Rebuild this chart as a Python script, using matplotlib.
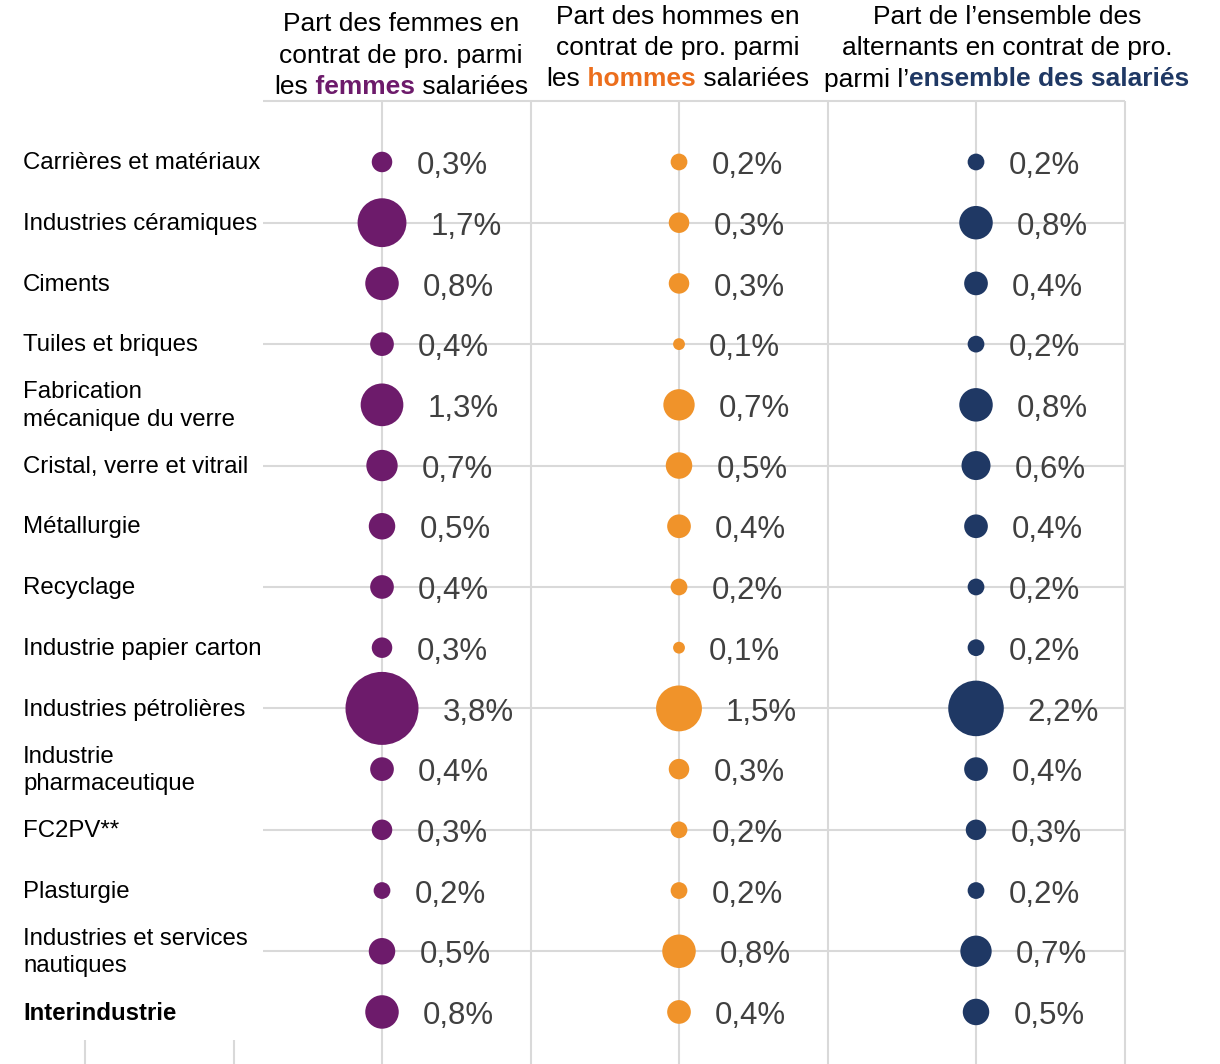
import numpy as np
import matplotlib.pyplot as plt

plt.rcParams['font.family'] = ['Liberation Sans', 'DejaVu Sans']

# ---------------------------
# data
# ---------------------------
categories = ["Carrières et matériaux", "Industries céramiques", "Ciments", "Tuiles et briques",
              "Fabrication\nmécanique du verre", "Cristal, verre et vitrail", "Métallurgie",
              "Recyclage", "Industrie papier carton", "Industries pétrolières",
              "Industrie\npharmaceutique", "FC2PV**", "Plasturgie",
              "Industries et services\nnautiques", "Interindustrie"]
femmes = [0.3, 1.7, 0.8, 0.4, 1.3, 0.7, 0.5, 0.4, 0.3, 3.8, 0.4, 0.3, 0.2, 0.5, 0.8]
hommes = [0.2, 0.3, 0.3, 0.1, 0.7, 0.5, 0.4, 0.2, 0.1, 1.5, 0.3, 0.2, 0.2, 0.8, 0.4]
ensemble = [0.2, 0.8, 0.4, 0.2, 0.8, 0.6, 0.4, 0.2, 0.2, 2.2, 0.4, 0.3, 0.2, 0.7, 0.5]

series = [femmes, hommes, ensemble]
colors = ["#6D1B6B", "#F0932A", "#1F3864"]
head_colors = ["#6D1B6B", "#EC6E1C", "#1F3864"]

# header lines: list of (text, highlighted?) pieces
headers = [
    [[("Part des femmes en", False)],
     [("contrat de pro. parmi", False)],
     [("les", False), (" femmes", True), (" salariées", False)]],
    [[("Part des hommes en", False)],
     [("contrat de pro. parmi", False)],
     [("les", False), (" hommes", True), (" salariées", False)]],
    [[("Part de l\u2019ensemble des", False)],
     [("alternants en contrat de pro.", False)],
     [("parmi l\u2019", False), ("ensemble des salariés", True)]],
]

# ---------------------------
# figure
# ---------------------------
W, H, DPI = 1220, 1064, 100
fig = plt.figure(figsize=(W / DPI, H / DPI), dpi=DPI)
ax = fig.add_axes([0, 0, 1, 1])
ax.set_xlim(-1.2862, 2.8215)
ax.set_ylim(14.857, -2.668)
ax.axis('off')

grid_c = "#D9D9D9"
n = len(categories)
rows = np.arange(n)

# gridlines
ax.hlines(np.arange(-1, n, 2), -0.4, 2.5, color=grid_c, lw=1.5, zorder=1)
ax.vlines(np.arange(0, 3, 0.5), -1, 14.857, color=grid_c, lw=1.5, zorder=1)
ax.vlines([-1, -0.5], 14.46, 14.857, color=grid_c, lw=1.5, zorder=1)

# bubbles + value labels
k = 727.0  # marker area (pt^2) per percentage point
for j, (vals, col) in enumerate(zip(series, colors)):
    s = np.array(vals) * k
    ax.scatter(np.full(n, j), rows, s=s, color=col, linewidths=0, zorder=3)
    for i, v in enumerate(vals):
        r_pt = np.sqrt(s[i]) / 2
        ax.annotate(f"{v:.1f}%".replace(".", ","), (j, i),
                    xytext=(r_pt + 17.3, -8.8), textcoords='offset points',
                    fontsize=22.5, color="#404040", ha='left', va='baseline', zorder=4)

# category labels
for i, c in enumerate(categories):
    ax.text(23 / W, i + 0.02, c, transform=ax.get_yaxis_transform(), fontsize=17.3,
            ha='left', va='center', color='black', linespacing=1.33,
            fontweight='bold' if c == "Interindustrie" else 'normal')

# headers (rich text lines)
renderer = fig.canvas.get_renderer()


def rich_line(xc, yb, parts, hcol):
    texts = []
    for s, hl in parts:
        texts.append(fig.text(0, yb, s, fontsize=19, va='baseline', ha='left',
                              color=hcol if hl else 'black',
                              fontweight='bold' if hl else 'normal'))
    widths = [t.get_window_extent(renderer).width for t in texts]
    x0 = xc * W - sum(widths) / 2
    for t, w in zip(texts, widths):
        t.set_x(x0 / W)
        x0 += w


head_x = [401, 678, 1007]
head_y = [[31, 62.5, 94], [24, 55, 86.5], [24, 55, 86.5]]
for j in range(3):
    for ln, parts in enumerate(headers[j]):
        rich_line(head_x[j] / W, 1 - head_y[j][ln] / H, parts, head_colors[j])

fig.savefig("out.png", dpi=DPI)
